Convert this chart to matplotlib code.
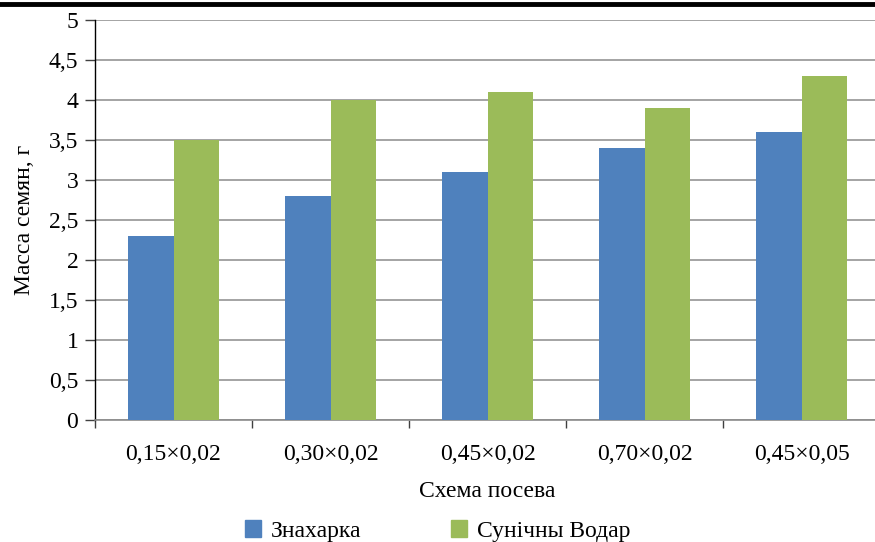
import matplotlib
matplotlib.use("Agg")
import matplotlib.pyplot as plt
from matplotlib.lines import Line2D
from matplotlib.patches import Patch
import numpy as np

categories = ["0,15×0,02", "0,30×0,02", "0,45×0,02", "0,70×0,02", "0,45×0,05"]
znaharka = [2.3, 2.8, 3.1, 3.4, 3.6]
vodar = [3.5, 4.0, 4.1, 3.9, 4.3]
series_names = ["Знахарка", "Сунічны Водар"]
colors = ["#4F81BD", "#9BBB59"]
yticks = [0, 0.5, 1, 1.5, 2, 2.5, 3, 3.5, 4, 4.5, 5]
ytick_labels = ["0", "0,5", "1", "1,5", "2", "2,5", "3", "3,5", "4", "4,5", "5"]

plt.rcParams['font.family'] = ['Liberation Serif', 'DejaVu Serif']
FS = 17

W, H = 875, 542
fig = plt.figure(figsize=(W / 100, H / 100), dpi=100)
left, right, top, bottom = 95, 880, 20, 420
ax = fig.add_axes([left / W, 1 - bottom / H, (right - left) / W, (bottom - top) / H])

x = np.arange(len(categories))
bw = 0.287
ax.bar(x - bw / 2, znaharka, bw, color=colors[0], zorder=3)
ax.bar(x + bw / 2, vodar, bw, color=colors[1], zorder=3)

ax.set_xlim(-0.5, len(categories) - 0.5)
ax.set_ylim(0, 5)
ax.set_yticks(yticks)
ax.set_yticklabels(ytick_labels, fontsize=FS)
ax.set_xticks(x)
ax.set_xticklabels(categories, fontsize=FS)
ax.tick_params(axis='x', length=0, pad=17)
ax.set_xticks(np.arange(len(categories) + 1) - 0.5, minor=True)
ax.tick_params(axis='x', which='minor', length=6, width=1, color='#404040', direction='out')
ax.tick_params(axis='y', length=7, width=1, color='#404040', pad=5)

ax.grid(axis='y', color='#8c8c8c', linewidth=1.1, zorder=0)
for s in ['top', 'right']:
    ax.spines[s].set_visible(False)
ax.spines['left'].set_color('black')
ax.spines['left'].set_linewidth(1)
ax.spines['bottom'].set_color('#8c8c8c')
ax.spines['bottom'].set_linewidth(1.2)

ax.set_ylabel("Масса семян, г", fontsize=FS, labelpad=10)
ax.set_xlabel("Схема посева", fontsize=FS, labelpad=12)

fig.add_artist(Line2D([0, 1], [1 - 4 / H, 1 - 4 / H], color='black', linewidth=3.5,
                      transform=fig.transFigure))

handles = [Patch(color=colors[0]), Patch(color=colors[1])]
fig.legend(handles, series_names, loc='center', bbox_to_anchor=(0.5, 1 - 531 / H),
           ncol=2, frameon=False, fontsize=FS, handlelength=0.7, handleheight=0.7,
           handletextpad=0.4, columnspacing=3.8)

fig.savefig("out.png", dpi=100)
